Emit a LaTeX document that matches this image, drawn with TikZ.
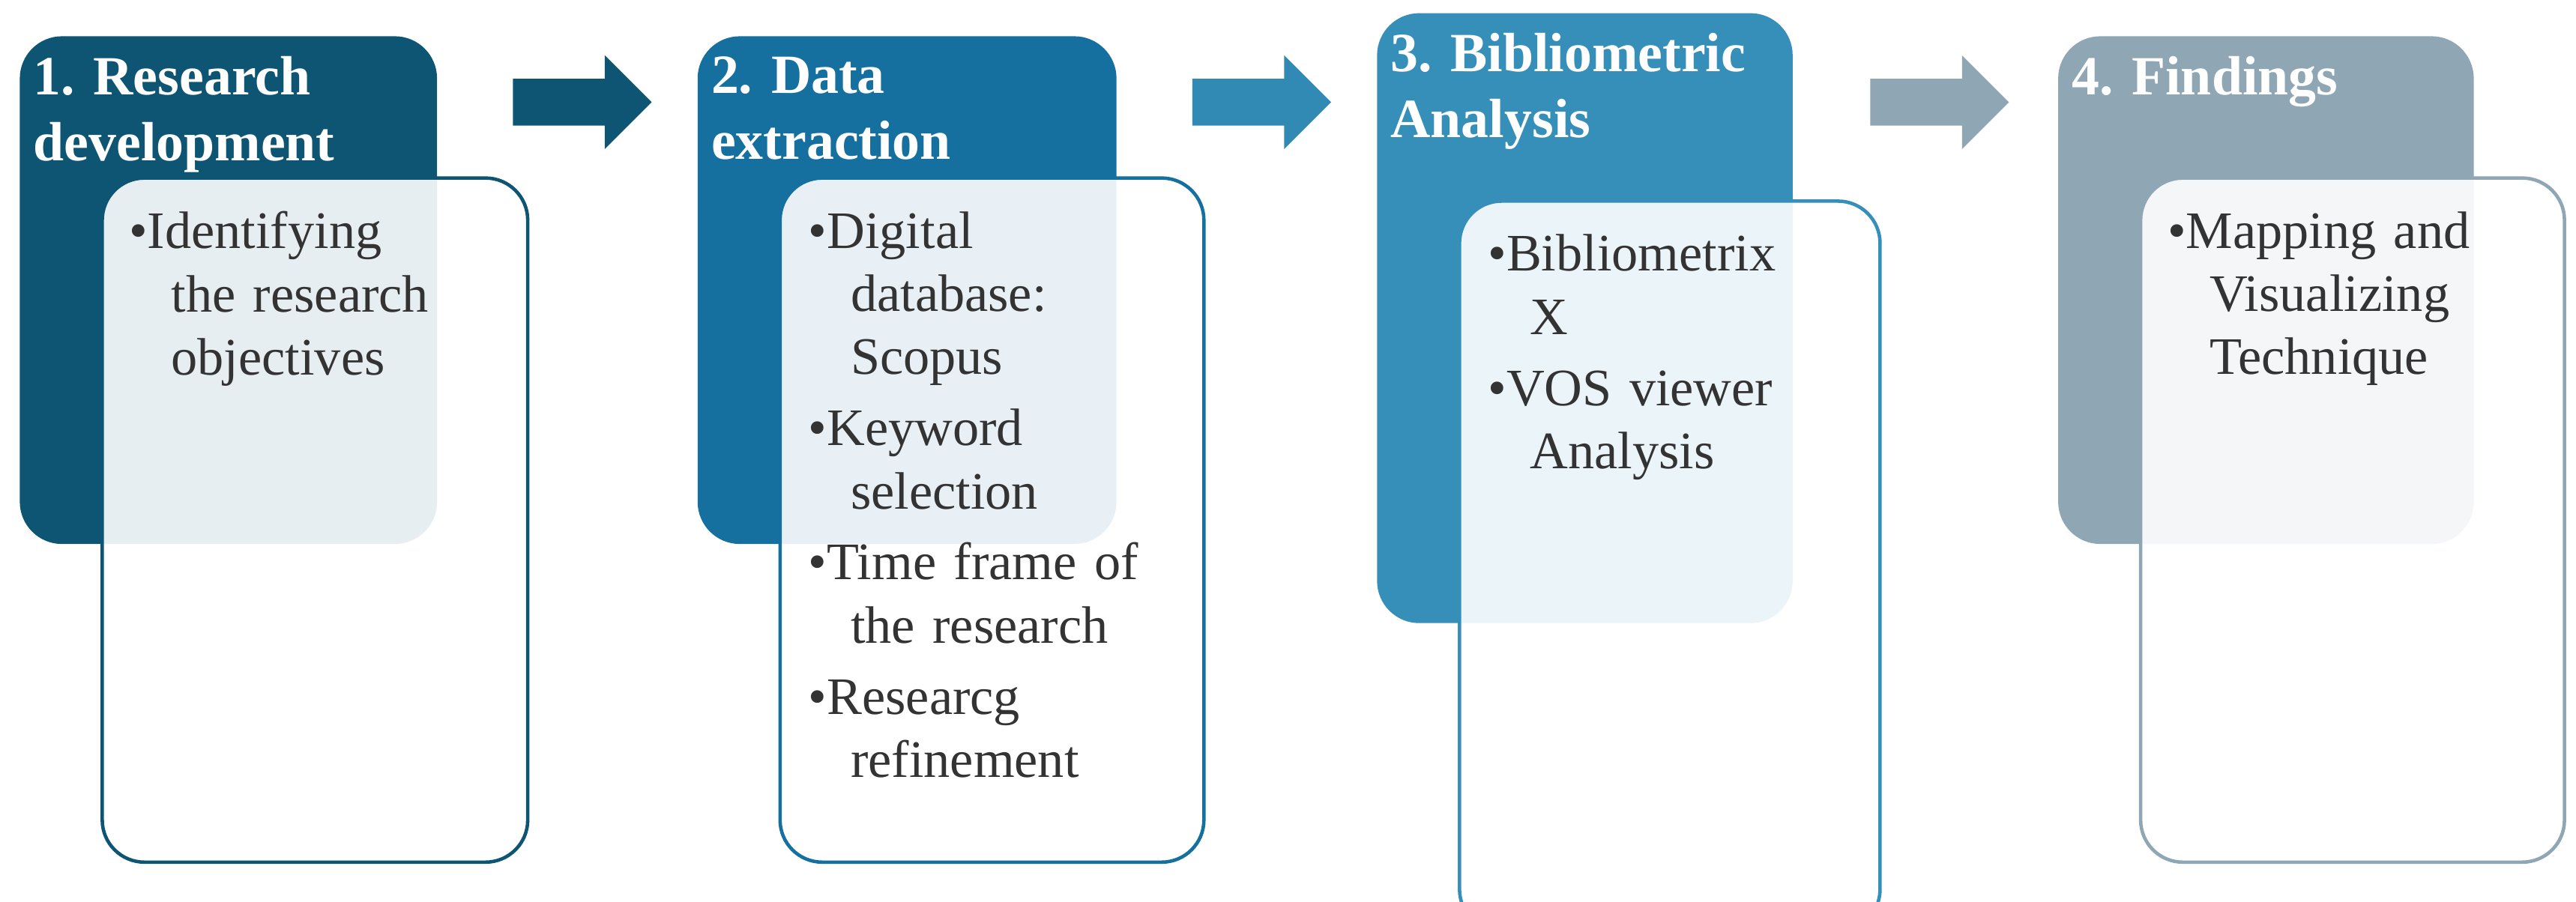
\documentclass[tikz,border=0pt]{standalone}
\usepackage{fontspec}
\setmainfont{Liberation Serif}
\usetikzlibrary{shapes.arrows}
\definecolor{cA}{HTML}{0E5574}
\definecolor{cB}{HTML}{1570A0}
\definecolor{cC}{HTML}{368FB8}
\definecolor{cD}{HTML}{8FA6B4}
\begin{document}
\begin{tikzpicture}[x=0.022cm,y=-0.022cm,
  head/.style={rounded corners=16pt,draw=none},
  body/.style={rounded corners=16pt,line width=1.3pt,fill=white,fill opacity=0.9},
  htxt/.style={text=white,font=\fontsize{21}{25}\selectfont\bfseries,align=left,anchor=north west,inner sep=0pt},
  btxt/.style={text=black!80,font=\fontsize{20}{24}\selectfont,align=left,anchor=north west,inner sep=0pt,text width=5.6cm},
  arr/.style={single arrow,draw=none,minimum height=1.85cm,minimum width=1.25cm,single arrow head extend=0.01cm,inner sep=0pt,shape border uses incircle}]
\useasboundingbox (0,0) rectangle (1562,547);
% box 1
\fill[cA,head] (12,22) rectangle (265,330);
\draw[cA,body] (62,108) rectangle (320,523);
\node[htxt] (h1) at (20,34) {1. Research\\development};
\node[btxt] (b1) at (78,128) {\textbullet Identifying\\\hspace{0.8em}the research\\\hspace{0.8em}objectives};
% box 2
\fill[cB,head] (423,22) rectangle (677,330);
\draw[cB,body] (473,108) rectangle (730,523);
\node[htxt] (h2) at (431,34) {2. Data\\extraction};
\node[btxt] (b2) at (490,128) {\textbullet Digital\\\hspace{0.8em}database:\\\hspace{0.8em}Scopus\\[3pt]\textbullet Keyword\\\hspace{0.8em}selection\\[3pt]\textbullet Time frame of\\\hspace{0.8em}the research\\[3pt]\textbullet Researcg\\\hspace{0.8em}refinement};
% box 3
\fill[cC,head] (835,8) rectangle (1087,378);
\draw[cC,body] (885,122) rectangle (1140,565);
\node[htxt] (h3) at (843,20) {3. Bibliometric\\Analysis};
\node[btxt] (b3) at (902,142) {\textbullet Bibliometrix\\\hspace{0.8em}X\\[3pt]\textbullet VOS viewer\\\hspace{0.8em}Analysis};
% box 4
\fill[cD,head] (1248,22) rectangle (1500,330);
\draw[cD,body] (1298,108) rectangle (1555,523);
\node[htxt] (h4) at (1256,34) {4. Findings};
\node[btxt] (b4) at (1314,128) {\textbullet Mapping and\\\hspace{0.8em}Visualizing\\\hspace{0.8em}Technique};
% arrows
\node[arr,fill=cA] (a1) at (346,62) {};
\node[arr,fill=cC!85!cB] (a2) at (758,62) {};
\node[arr,fill=cD] (a3) at (1169,62) {};
\end{tikzpicture}
\end{document}
